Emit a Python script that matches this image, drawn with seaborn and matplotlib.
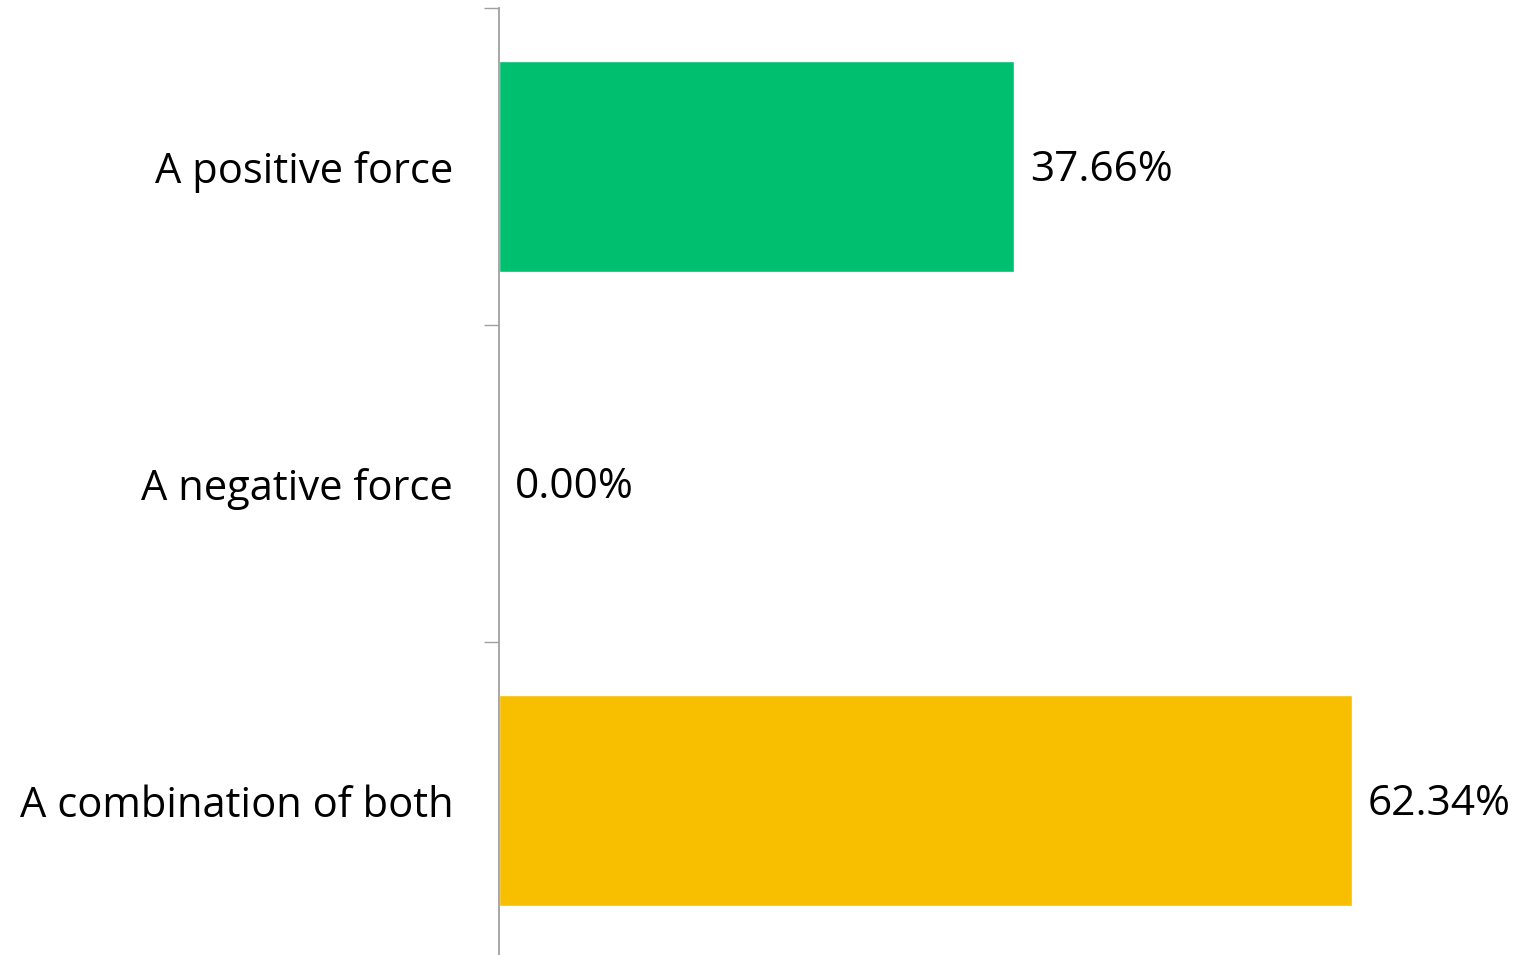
import matplotlib
matplotlib.use("Agg")
import matplotlib.pyplot as plt
import seaborn as sns
import pandas as pd
import numpy as np

categories = ["A positive force", "A negative force", "A combination of both"]
values = [37.66, 0.00, 62.34]
labels = ["37.66%", "0.00%", "62.34%"]
colors = ["#00C06F", "#F8BE00", "#F8BE00"]

sns.set_theme(style="white")
plt.rcParams['font.family'] = ['Open Sans', 'DejaVu Sans']

W, H = 1524, 955
fig = plt.figure(figsize=(W / 100, H / 100), dpi=100)
ax = fig.add_axes([499 / W, -4 / H, 1 - 499 / W, (959 - 8) / H])

df = pd.DataFrame({"cat": categories, "val": values})
sns.barplot(data=df, y="cat", x="val", hue="cat", palette=colors, legend=False,
            orient="h", width=0.667, ax=ax, saturation=1)

ax.set_xlim(0, 74.9)
ax.set_ylim(2.5, -0.5)
ax.set_xlabel("")
ax.set_ylabel("")
ax.set_xticks([])

for s in ["top", "right", "bottom"]:
    ax.spines[s].set_visible(False)
ax.spines["left"].set_color("#A0A0A0")
ax.spines["left"].set_linewidth(1.3)

ax.set_yticks(range(len(categories)))
ax.set_yticklabels(categories, fontsize=30, color="black")
ax.tick_params(axis="y", which="major", length=0, pad=33)
ax.set_yticks([-0.5, 0.5, 1.5, 2.5], minor=True)
ax.tick_params(axis="y", which="minor", length=11, width=1.0, color="#A0A0A0", left=True)

for i, (v, lab) in enumerate(zip(values, labels)):
    ax.text(v + 1.15, i + 0.01, lab, va="center", ha="left", fontsize=30.5, color="black")

fig.savefig("out.png", dpi=100)
